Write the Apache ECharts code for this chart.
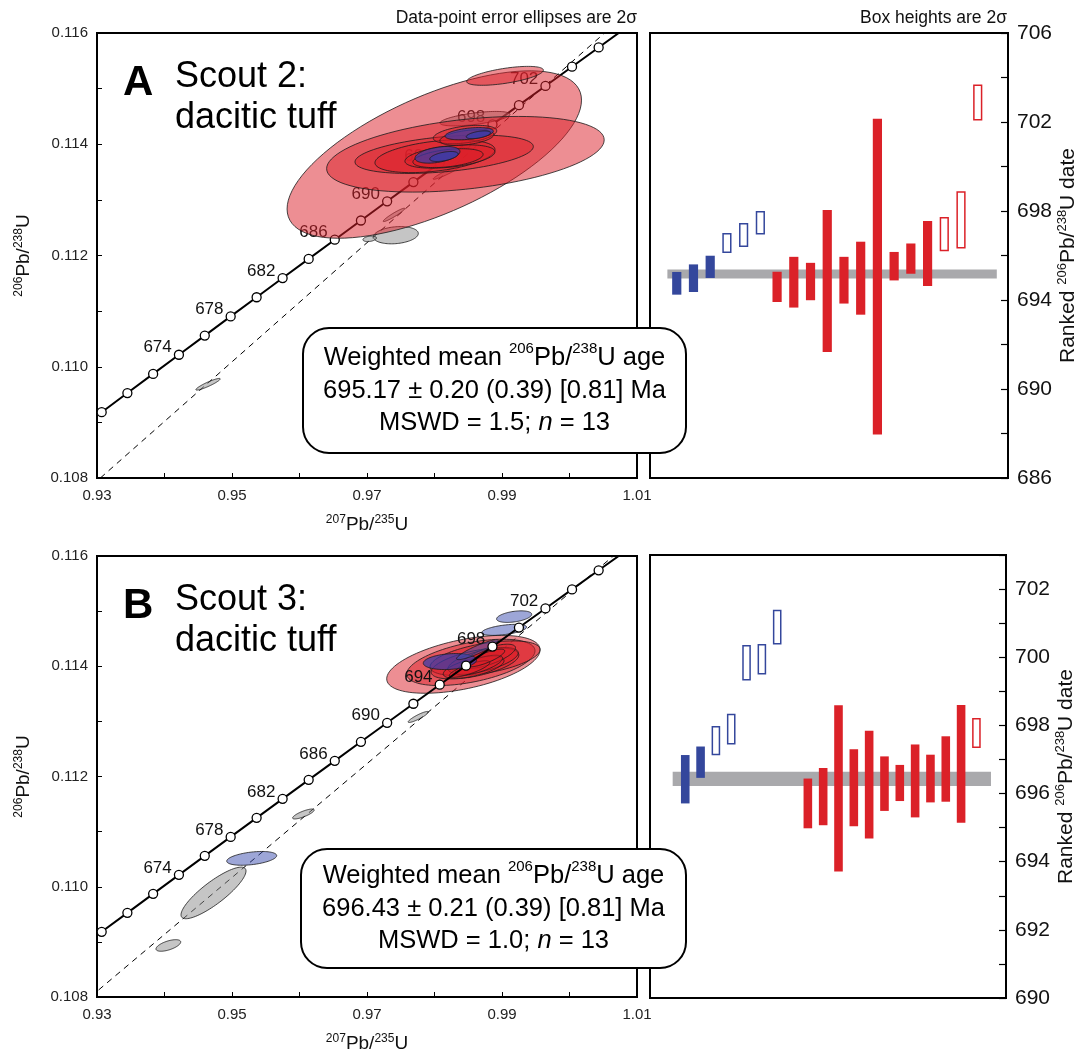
<!DOCTYPE html>
<html>
<head>
<meta charset="utf-8">
<title>Scout 2 / Scout 3 U-Pb</title>
<script src="https://cdn.jsdelivr.net/npm/echarts@6/dist/echarts.min.js"></script>
<style>
  html, body { margin: 0; background: #fff; }
  #chart { width: 1082px; height: 1056px; }
</style>
</head>
<body>
<div id="chart"></div>
<script>
// decay constants (1/yr) for the concordia curve
var L238 = 1.55125e-10, L235 = 9.8485e-10;
var concordiaAges = [666, 668, 670, 672, 674, 676, 678, 680, 682, 684, 686, 688, 690, 692, 694, 696, 698, 700, 702, 704, 706, 708];
var labelAges = [674, 678, 682, 686, 690, 694, 698, 702];

// dashed reference line, two end points [207/235, 206/238]
var dashedA = [[0.9305, 0.108], [1.0052, 0.116]];
var dashedB = [[0.929, 0.108], [1.0065, 0.116]];

// error ellipses: [207Pb/235U, 206Pb/238U, 2s x, 2s y, rho]
var ellipsesA = [
  [0.97427, 0.112365, 0.00333, 0.000155, 0.2],
  [0.9704, 0.1123, 0.0010, 0.00005, 0.3],
  [0.94645, 0.109685, 0.0018, 0.000105, 0.92],
  [0.9740, 0.11273, 0.0016, 0.00012, 0.95],
  [0.9818, 0.11349, 0.0020, 0.00012, 0.95],
  [0.9860, 0.11446, 0.00519, 0.00013, 0.6],
  [0.97997, 0.113815, 0.02181, 0.001505, 0.65],
  [0.98458, 0.11382, 0.02056, 0.00068, 0.38],
  [0.99045, 0.11523, 0.00568, 0.00017, 0.6],
  [0.98143, 0.11382, 0.01321, 0.000345, 0.4],
  [0.98007, 0.113785, 0.00889, 0.000295, 0.4],
  [0.98229, 0.11378, 0.00667, 0.00021, 0.4],
  [0.98452, 0.114175, 0.0047, 0.000165, 0.4],
  [0.9820, 0.11375, 0.0052, 0.00017, 0.4],
  [0.9848, 0.11412, 0.0040, 0.00014, 0.4],
  [0.98514, 0.11419, 0.00358, 0.00011, 0.4],
  [0.98044, 0.11381, 0.00333, 0.00015, 0.4],
  [0.9865, 0.11417, 0.0018, 0.00007, 0.5],
  [0.9814, 0.11378, 0.0021, 0.00009, 0.5]
];
var ellipseKindA = ['gray', 'gray', 'gray', 'gray', 'gray', 'gray',
  'red', 'red', 'red', 'red', 'red', 'red', 'red', 'red', 'red',
  'blueDeep', 'blueDeep', 'blueDeep', 'blueDeep'];

var ellipsesB = [
  [0.94726, 0.109888, 0.004815, 0.000468, 0.85],
  [0.94057, 0.108935, 0.00183, 0.000105, 0.6],
  [0.96058, 0.11132, 0.0016, 0.00009, 0.8],
  [0.9776, 0.11308, 0.0015, 0.0001, 0.9],
  [0.98428, 0.114035, 0.01136, 0.000525, 0.5],
  [0.98539, 0.11407, 0.0095, 0.00042, 0.5],
  [0.98748, 0.114145, 0.00815, 0.000315, 0.5],
  [0.9860, 0.11405, 0.0065, 0.00028, 0.55],
  [0.9872, 0.11410, 0.0052, 0.00024, 0.6],
  [0.9858, 0.11398, 0.0045, 0.0002, 0.6],
  [0.9880, 0.11418, 0.0040, 0.00022, 0.7],
  [0.9866, 0.11402, 0.0035, 0.00018, 0.7],
  [0.9852, 0.11395, 0.0030, 0.00015, 0.8],
  [0.9876, 0.11415, 0.0028, 0.00016, 0.8],
  [0.98229, 0.114085, 0.00395, 0.000145, 0.2],
  [0.98637, 0.11430, 0.0031, 0.00018, 0.9],
  [0.9918, 0.11490, 0.0026, 0.000105, 0.4],
  [0.99032, 0.11466, 0.00333, 0.0001, 0.5],
  [0.95292, 0.110515, 0.0037, 0.000125, 0.4]
];
var ellipseKindB = ['gray', 'gray', 'gray', 'gray',
  'red', 'red', 'red', 'red', 'red', 'red', 'red', 'red', 'red', 'red',
  'blueDeep', 'blue', 'blue', 'blue', 'blue'];

// ranked 206Pb/238U dates (Ma) with 2s
var slotA = [0, 1, 2, 3, 4, 5, 6, 7, 8, 9, 10, 11, 12, 13, 14, 15, 16, 17, 18];
var dateA = [694.75, 694.98, 695.49, 696.56, 696.92, 697.47, 694.59, 694.80, 694.83, 694.85, 694.89, 694.98, 695.05, 695.52, 695.86, 696.09, 696.96, 697.60, 702.88];
var errA = [0.51, 0.62, 0.50, 0.45, 0.54, 0.53, 0.68, 1.14, 0.84, 3.19, 1.05, 1.64, 7.10, 0.64, 0.68, 1.46, 0.77, 1.29, 0.81];
var kindA = ['blue', 'blue', 'blue', 'blueOpen', 'blueOpen', 'blueOpen',
  'red', 'red', 'red', 'red', 'red', 'red', 'red', 'red', 'red', 'red', 'redOpen', 'redOpen', 'redOpen'];
var meanA = 695.17, meanErrA = 0.20, bandA = [-0.56, 19.14];

var slotB = [0, 1, 2, 3, 4, 5, 6, 8, 9, 10, 11, 12, 13, 14, 15, 16, 17, 18, 19];
var dateB = [696.42, 696.92, 697.55, 697.89, 699.84, 699.94, 700.88, 695.71, 695.91, 696.15, 696.17, 696.26, 696.29, 696.31, 696.37, 696.44, 696.72, 696.87, 697.78];
var errB = [0.71, 0.46, 0.43, 0.45, 0.52, 0.45, 0.51, 0.73, 0.84, 2.44, 1.13, 1.58, 0.80, 0.53, 1.07, 0.70, 0.96, 1.73, 0.44];
var kindB = ['blue', 'blue', 'blueOpen', 'blueOpen', 'blueOpen', 'blueOpen', 'blueOpen',
  'red', 'red', 'red', 'red', 'red', 'red', 'red', 'red', 'red', 'red', 'red', 'redOpen'];
var meanB = 696.43, meanErrB = 0.21, bandB = [-0.82, 19.95];

var FONT = 'Liberation Sans, Arial, Helvetica, sans-serif';
var fills = {
  gray: 'rgba(140,140,140,0.5)',
  red: 'rgba(220,30,40,0.5)',
  blue: 'rgba(60,78,175,0.5)',
  blueDeep: 'rgba(55,60,170,0.72)'
};
var BLUE = '#34479c', RED = '#db2128';

function concordia(ages) {
  return ages.map(function (a) {
    return [Math.exp(L235 * a * 1e6) - 1, Math.exp(L238 * a * 1e6) - 1, a];
  });
}

function ellipseSeries(xi, yi, list, kinds, z) {
  return {
    type: 'custom', xAxisIndex: xi, yAxisIndex: yi, z: z, silent: true, clip: true,
    data: list,
    renderItem: function (params, api) {
      var cx = api.value(0), cy = api.value(1), sx = api.value(2), sy = api.value(3), r = api.value(4);
      var pts = [];
      for (var k = 0; k < 96; k++) {
        var t = 2 * Math.PI * k / 96;
        pts.push(api.coord([cx + sx * Math.cos(t), cy + sy * (r * Math.cos(t) + Math.sqrt(1 - r * r) * Math.sin(t))]));
      }
      return {
        type: 'polygon', shape: { points: pts },
        style: { fill: fills[kinds[params.dataIndex]], stroke: '#1a1a1a', lineWidth: 0.8 }
      };
    }
  };
}

function concordiaSeries(xi, yi, z) {
  return {
    type: 'line', xAxisIndex: xi, yAxisIndex: yi, z: z, silent: true,
    data: concordia(concordiaAges),
    symbol: 'circle', symbolSize: 9, showAllSymbol: true,
    lineStyle: { color: '#000', width: 2 },
    itemStyle: { color: '#fff', borderColor: '#000', borderWidth: 1.3 },
    label: {
      show: true, position: 'left', distance: 2, offset: [0, -7],
      fontSize: 17, color: '#111', fontFamily: FONT,
      formatter: function (p) { return labelAges.indexOf(p.value[2]) >= 0 ? String(p.value[2]) : ''; }
    }
  };
}

function dashedSeries(xi, yi, pts) {
  return {
    type: 'line', xAxisIndex: xi, yAxisIndex: yi, z: 1, silent: true,
    data: pts, symbol: 'none',
    lineStyle: { color: '#000', width: 1, type: [6, 5] }
  };
}

function boxSeries(xi, yi, slots, dates, errs, kinds, w) {
  return {
    type: 'custom', xAxisIndex: xi, yAxisIndex: yi, z: 2, silent: true,
    data: slots.map(function (s, i) { return [s, dates[i], errs[i]]; }),
    renderItem: function (params, api) {
      var x = api.value(0), d = api.value(1), e = api.value(2);
      var top = api.coord([x, d + e]), bot = api.coord([x, d - e]);
      var k = kinds[params.dataIndex];
      var col = k.indexOf('blue') === 0 ? BLUE : RED;
      if (k.indexOf('Open') > 0) {
        return {
          type: 'rect',
          shape: { x: top[0] - (w - 1.5) / 2, y: top[1] + 0.75, width: w - 1.5, height: bot[1] - top[1] - 1.5 },
          style: { fill: '#fff', stroke: col, lineWidth: 1.5 }
        };
      }
      return {
        type: 'rect',
        shape: { x: top[0] - w / 2, y: top[1], width: w, height: bot[1] - top[1] },
        style: { fill: col }
      };
    }
  };
}

function bandSeries(xi, yi, band, mean, err) {
  return {
    type: 'custom', xAxisIndex: xi, yAxisIndex: yi, z: 1, silent: true,
    data: [[band[0], band[1], mean, err]],
    renderItem: function (params, api) {
      var p0 = api.coord([api.value(0), api.value(2) + api.value(3)]);
      var p1 = api.coord([api.value(1), api.value(2) - api.value(3)]);
      return {
        type: 'rect',
        shape: { x: p0[0], y: p0[1], width: p1[0] - p0[0], height: p1[1] - p0[1] },
        style: { fill: '#a9a9ac' }
      };
    }
  };
}

var supRich = { sup: { fontSize: 12, lineHeight: 12, verticalAlign: 'top', fontFamily: FONT, color: '#111' } };

function ratioX(grid) {
  return {
    gridIndex: grid, type: 'value', min: 0.93, max: 1.01, interval: 0.01,
    name: '{sup|207}Pb/{sup|235}U', nameLocation: 'middle', nameGap: 36,
    nameTextStyle: { fontSize: 19, lineHeight: 22, color: '#111', fontFamily: FONT, rich: supRich },
    axisLine: { show: true, onZero: false, lineStyle: { color: '#000', width: 2 } },
    axisTick: { show: true, inside: true, length: 5, lineStyle: { color: '#000', width: 1 } },
    axisLabel: {
      fontSize: 15, color: '#222', margin: 10, fontFamily: FONT,
      formatter: function (v) { return Math.round(v * 100) % 2 === 1 ? v.toFixed(2) : ''; }
    },
    splitLine: { show: false }
  };
}

function ratioY(grid) {
  return {
    gridIndex: grid, type: 'value', min: 0.108, max: 0.116, interval: 0.001,
    name: '{sup|206}Pb/{sup|238}U', nameLocation: 'middle', nameGap: 62, nameRotate: 90,
    nameTextStyle: { fontSize: 19, lineHeight: 22, color: '#111', fontFamily: FONT, rich: supRich },
    axisLine: { show: true, onZero: false, lineStyle: { color: '#000', width: 2 } },
    axisTick: { show: true, inside: true, length: 5, lineStyle: { color: '#000', width: 1 } },
    axisLabel: {
      fontSize: 15, color: '#222', margin: 9, fontFamily: FONT,
      formatter: function (v) { return Math.round(v * 1000) % 2 === 0 ? v.toFixed(3) : ''; }
    },
    splitLine: { show: false }
  };
}

function rankY(grid, min, max, step, labelFn) {
  return {
    gridIndex: grid, type: 'value', position: 'right', min: min, max: max, interval: step,
    name: 'Ranked {sup|206}Pb/{sup|238}U date', nameLocation: 'middle', nameGap: 48, nameRotate: 90,
    nameTextStyle: { fontSize: 21, lineHeight: 24, color: '#111', fontFamily: FONT,
      rich: { sup: { fontSize: 13, lineHeight: 13, verticalAlign: 'top', fontFamily: FONT, color: '#111' } } },
    axisLine: { show: true, onZero: false, lineStyle: { color: '#000', width: 2 } },
    axisTick: { show: true, inside: true, length: 7, lineStyle: { color: '#000', width: 1.2 } },
    axisLabel: { fontSize: 21, color: '#111', margin: 9, fontFamily: FONT, formatter: labelFn },
    splitLine: { show: false }
  };
}

function rankX(grid, min, max) {
  return { gridIndex: grid, type: 'value', min: min, max: max, show: false, splitLine: { show: false } };
}

function titleBlock(letter, line1, line2, dy) {
  return [
    { type: 'text', x: 123, y: 83 + dy, z: 50,
      style: { text: letter, font: 'bold 42px ' + FONT, fill: '#000', align: 'left', verticalAlign: 'middle' } },
    { type: 'text', x: 175, y: 77 + dy, z: 50,
      style: { text: line1, font: '36px ' + FONT, fill: '#000', align: 'left', verticalAlign: 'middle' } },
    { type: 'text', x: 175, y: 118 + dy, z: 50,
      style: { text: line2, font: '36px ' + FONT, fill: '#000', align: 'left', verticalAlign: 'middle' } }
  ];
}

function meanBox(x, y, w, h, mean, err, mswd) {
  return [
    { type: 'rect', z: 60, shape: { x: x, y: y, width: w, height: h, r: 26 },
      style: { fill: '#fff', stroke: '#000', lineWidth: 2 } },
    { type: 'text', z: 61, x: x + w / 2, y: y + h / 2,
      style: {
        text: 'Weighted mean {sup|206}Pb/{sup|238}U age\n' + mean + ' \u00b1 ' + err + ' (0.39) [0.81] Ma\nMSWD = ' + mswd + '; {it|n} = 13',
        fontSize: 25.5, lineHeight: 32.5, fontFamily: FONT, fill: '#000', align: 'center', verticalAlign: 'middle',
        rich: {
          sup: { fontSize: 15, lineHeight: 15, verticalAlign: 'top', fontFamily: FONT, fill: '#000' },
          it: { fontSize: 25.5, fontStyle: 'italic', fontFamily: FONT, fill: '#000' }
        }
      } }
  ];
}

var chart = echarts.init(document.getElementById('chart'));
var option = {
  animation: false,
  backgroundColor: '#fff',
  textStyle: { fontFamily: FONT },
  grid: [
    { left: 97, top: 33, width: 540, height: 445, show: true, borderColor: '#000', borderWidth: 2, backgroundColor: 'transparent' },
    { left: 650, top: 33, width: 358, height: 445, show: true, borderColor: '#000', borderWidth: 2, backgroundColor: 'transparent' },
    { left: 97, top: 556, width: 540, height: 444, show: true, borderColor: '#000', borderWidth: 2, backgroundColor: 'transparent' },
    { left: 650, top: 555, width: 356, height: 443, show: true, borderColor: '#000', borderWidth: 2, backgroundColor: 'transparent' }
  ],
  xAxis: [ratioX(0), rankX(1, -1.6, 19.81), ratioX(2), rankX(3, -2.3, 20.93)],
  yAxis: [
    ratioY(0),
    rankY(1, 686, 706, 2, function (v) { return (v - 686) % 4 === 0 ? String(v) : ''; }),
    ratioY(2),
    rankY(3, 690, 703, 1, function (v) { return v % 2 === 0 && v <= 702 ? String(v) : ''; })
  ],
  series: [
    dashedSeries(0, 0, dashedA),
    concordiaSeries(0, 0, 2),
    ellipseSeries(0, 0, ellipsesA, ellipseKindA, 3),
    bandSeries(1, 1, bandA, meanA, meanErrA),
    boxSeries(1, 1, slotA, dateA, errA, kindA, 9.2),
    dashedSeries(2, 2, dashedB),
    ellipseSeries(2, 2, ellipsesB, ellipseKindB, 2),
    concordiaSeries(2, 2, 3),
    bandSeries(3, 3, bandB, meanB, meanErrB),
    boxSeries(3, 3, slotB, dateB, errB, kindB, 8.6)
  ],
  graphic: [].concat(
    [
      { type: 'text', x: 637, y: 18, z: 50,
        style: { text: 'Data-point error ellipses are 2\u03c3', font: '17.5px ' + FONT, fill: '#111', align: 'right', verticalAlign: 'middle' } },
      { type: 'text', x: 1007, y: 18, z: 50,
        style: { text: 'Box heights are 2\u03c3', font: '17.5px ' + FONT, fill: '#111', align: 'right', verticalAlign: 'middle' } }
    ],
    titleBlock('A', 'Scout 2:', 'dacitic tuff', 0),
    titleBlock('B', 'Scout 3:', 'dacitic tuff', 523),
    meanBox(303, 328, 383, 125, '695.17', '0.20', '1.5'),
    meanBox(301, 849, 385, 119, '696.43', '0.21', '1.0')
  )
};
chart.setOption(option);
</script>
</body>
</html>
